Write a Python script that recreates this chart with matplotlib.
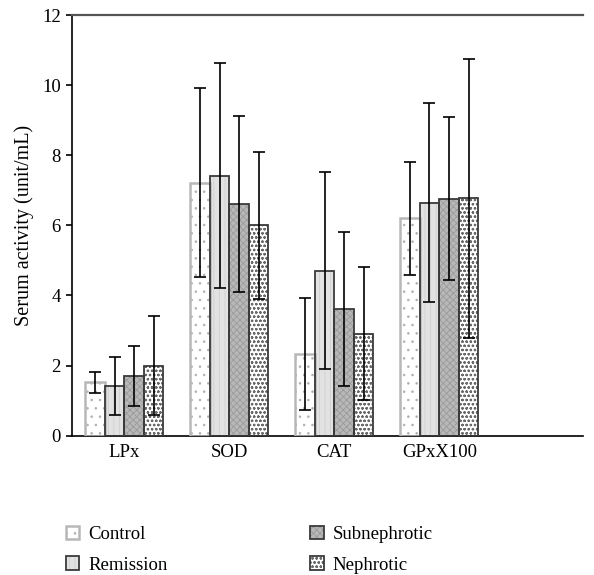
import numpy as np
import matplotlib
matplotlib.use("Agg")
import matplotlib.pyplot as plt
from matplotlib.patches import Patch
from matplotlib.legend_handler import HandlerTuple

plt.rcParams["font.family"] = ["Liberation Serif", "DejaVu Serif"]
plt.rcParams["hatch.linewidth"] = 0.6

# data
categories = ["LPx", "SOD", "CAT", "GPxX100"]
series = ["Control", "Remission", "Subnephrotic", "Nephrotic"]
means = {
    "Control":      [1.52, 7.22, 2.33, 6.20],
    "Remission":    [1.41, 7.42, 4.71, 6.65],
    "Subnephrotic": [1.71, 6.61, 3.61, 6.76],
    "Nephrotic":    [2.00, 6.00, 2.91, 6.77],
}
errors = {
    "Control":      [0.31, 2.70, 1.60, 1.62],
    "Remission":    [0.83, 3.20, 2.80, 2.83],
    "Subnephrotic": [0.85, 2.50, 2.20, 2.33],
    "Nephrotic":    [1.41, 2.10, 1.90, 3.98],
}

# (face, hatch, hatch colour, edge colour, edge width)
styles = {
    "Control":      ("white",   "..",    "#b0b0b0", "#b8b8b8", 1.8),
    "Remission":    ("#e2e2e2", "|||",   "#cfcfcf", "#3a3a3a", 1.3),
    "Subnephrotic": ("#b8b8b8", "xxxxx", "#9a9a9a", "#3a3a3a", 1.3),
    "Nephrotic":    ("white",   "oooo",  "#6a6a6a", "#3a3a3a", 1.3),
}

FS = 13.5

fig = plt.figure(figsize=(5.94, 5.75), dpi=100)
ax = fig.add_axes([0.1212, 0.2423, 0.8603, 0.7316])

x = np.arange(len(categories))
w = 0.186
handles = []
for i, name in enumerate(series):
    face, hatch, hcol, ecol, lw = styles[name]
    pos = x + (i - 1.5) * w
    ax.bar(pos, means[name], w, color=face, hatch=hatch, edgecolor=hcol, linewidth=0, zorder=2)
    ax.bar(pos, means[name], w, fill=False, edgecolor=ecol, linewidth=lw, zorder=3)
    ax.errorbar(pos, means[name], yerr=errors[name], fmt="none", ecolor="black",
                elinewidth=1.2, capsize=4, capthick=1.2, zorder=4)
    h1 = Patch(facecolor=face, hatch=hatch, edgecolor=hcol, linewidth=0)
    h2 = Patch(fill=False, edgecolor=ecol, linewidth=lw)
    handles.append((h1, h2))

ax.set_xlim(-0.5, 4.37)
ax.set_ylim(0, 12)
ax.set_yticks(range(0, 13, 2))
ax.set_xticks(x)
ax.set_xticklabels(categories, fontsize=FS)
ax.tick_params(axis="x", length=0, pad=6)
ax.tick_params(axis="y", labelsize=FS, direction="out", length=4, width=1.2, pad=4)
ax.set_ylabel("Serum activity (unit/mL)", fontsize=14.5, labelpad=6)
ax.spines["right"].set_visible(False)
for s in ["left", "bottom"]:
    ax.spines[s].set_linewidth(1.2)
ax.spines["top"].set_linewidth(1.6)
ax.spines["top"].set_color("#555555")

hmap = {tuple: HandlerTuple(ndivide=1)}
leg_kw = dict(frameon=False, fontsize=FS, handlelength=0.7, handleheight=0.7,
              handletextpad=0.5, labelspacing=0.7, handler_map=hmap, borderaxespad=0)
fig.legend(handles[:2], series[:2], loc="upper left", bbox_to_anchor=(0.098, 0.098), **leg_kw)
fig.legend(handles[2:], series[2:], loc="upper left", bbox_to_anchor=(0.51, 0.098), **leg_kw)

fig.savefig("out.png", dpi=100)
